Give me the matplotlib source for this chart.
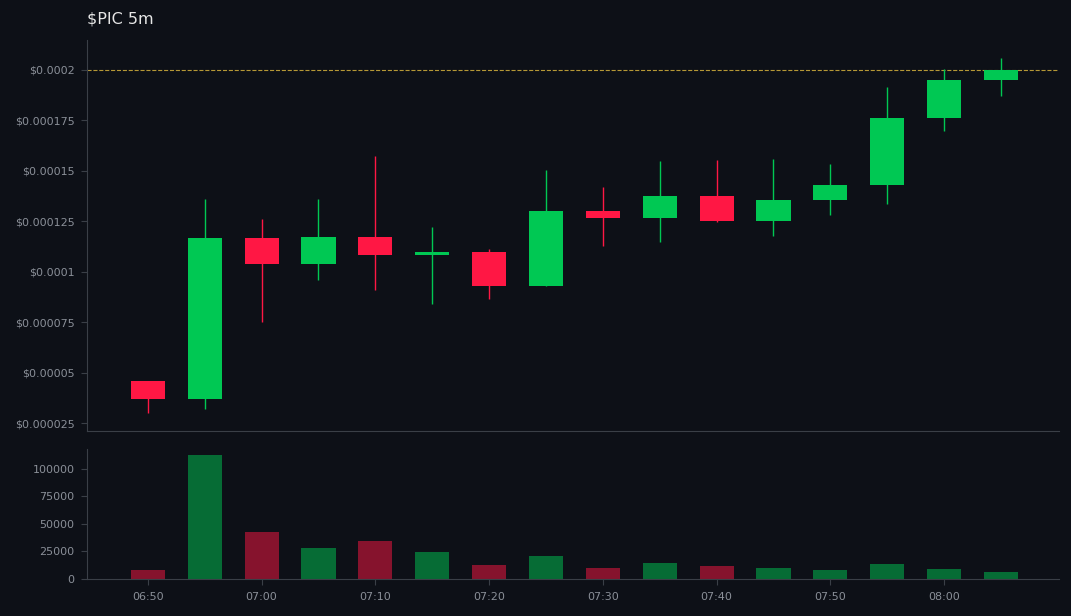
import matplotlib.pyplot as plt
import numpy as np

# 5 minute candles for $PIC
times = ['06:50', '06:55', '07:00', '07:05', '07:10', '07:15', '07:20', '07:25',
         '07:30', '07:35', '07:40', '07:45', '07:50', '07:55', '08:00', '08:05']
opens = [0.0000458, 0.0000369, 0.0001169, 0.0001041, 0.0001174, 0.0001085, 0.0001100, 0.0000932,
         0.0001303, 0.0001268, 0.0001377, 0.0001250, 0.0001357, 0.0001431, 0.0001763, 0.0001951]
highs = [0.0000458, 0.0001362, 0.0001263, 0.0001362, 0.0001575, 0.0001224, 0.0001115, 0.0001506,
         0.0001422, 0.0001550, 0.0001555, 0.0001557, 0.0001532, 0.0001913, 0.0002005, 0.0002059]
lows = [0.0000300, 0.0000320, 0.0000750, 0.0000957, 0.0000912, 0.0000843, 0.0000863, 0.0000932,
        0.0001130, 0.0001145, 0.0001245, 0.0001176, 0.0001283, 0.0001338, 0.0001698, 0.0001868]
closes = [0.0000369, 0.0001169, 0.0001041, 0.0001174, 0.0001085, 0.0001100, 0.0000932, 0.0001303,
          0.0001268, 0.0001377, 0.0001250, 0.0001357, 0.0001431, 0.0001763, 0.0001951, 0.0001998]
volumes = [8400, 112200, 42700, 28200, 34800, 24600, 12900, 21000,
           10200, 14700, 12000, 10200, 8400, 13800, 9300, 6600]

BG = '#0d1017'
UP = '#00c853'
DOWN = '#ff1744'
MUTED = '#8a8f98'
SPINE = '#3a3f47'

fig = plt.figure(figsize=(10.71, 6.16), dpi=100, facecolor=BG)
ax = fig.add_axes([0.0812, 0.3003, 0.9076, 0.6347], facecolor=BG)
axv = fig.add_axes([0.0812, 0.060, 0.9076, 0.211], facecolor=BG, sharex=ax)

x = np.arange(len(times))
o, h, l, c = map(np.array, (opens, highs, lows, closes))
colors = np.where(c >= o, UP, DOWN)

# wicks + bodies
ax.vlines(x, l, h, colors=colors, linewidth=1, zorder=2)
body_h = np.maximum(np.abs(c - o), 0.0000008)
ax.bar(x, body_h, width=0.6, bottom=np.minimum(o, c), color=colors, zorder=3)

# last price line
ax.axhline(c[-1], color='#c9a83a', linestyle='--', linewidth=0.8, alpha=0.9, zorder=1)

axv.bar(x, volumes, width=0.6, color=colors, alpha=0.5)

ax.set_xlim(-1.07, 16.02)
ax.set_ylim(0.0000212, 0.0002147)
ax.set_yticks([0.000025, 0.00005, 0.000075, 0.0001, 0.000125, 0.00015, 0.000175, 0.0002])
ax.set_yticklabels([r'\$' + f'{v:.6f}'.rstrip('0') for v in ax.get_yticks()])
axv.set_ylim(0, 117800)
axv.set_yticks([0, 25000, 50000, 75000, 100000])
axv.set_yticklabels(['0', '25000', '50000', '75000', '100000'])
axv.set_xticks(x[::2])
axv.set_xticklabels(times[::2])
ax.tick_params(axis='x', bottom=False, labelbottom=False)

for a in (ax, axv):
    for s in ('top', 'right'):
        a.spines[s].set_visible(False)
    for s in ('left', 'bottom'):
        a.spines[s].set_color(SPINE)
    a.tick_params(colors=SPINE, labelcolor=MUTED, labelsize=8, length=4, pad=5)

ax.set_title(r'\$PIC 5m', loc='left', color='#e6e6e6', fontsize=11.5, pad=12)

plt.savefig('out.png', dpi=100, facecolor=BG)
